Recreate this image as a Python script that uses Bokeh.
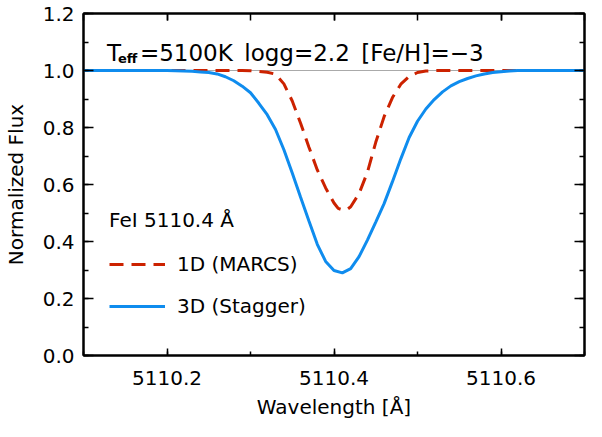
from bokeh.plotting import figure
from bokeh.models import (Range1d, LinearAxis, FixedTicker, Span, Label, Legend,
                          LegendItem, NumeralTickFormatter)
from bokeh.embed import file_html
from bokeh.resources import INLINE

# ---- data ----
wl_3d = [5110.10, 5110.15, 5110.20, 5110.21, 5110.22, 5110.23, 5110.24, 5110.25,
         5110.26, 5110.27, 5110.28, 5110.29, 5110.30, 5110.31, 5110.32, 5110.33,
         5110.34, 5110.35, 5110.36, 5110.37, 5110.38, 5110.39, 5110.40, 5110.41,
         5110.42, 5110.43, 5110.44, 5110.45, 5110.46, 5110.47, 5110.48, 5110.49,
         5110.50, 5110.51, 5110.52, 5110.53, 5110.54, 5110.55, 5110.56, 5110.57,
         5110.58, 5110.59, 5110.60, 5110.61, 5110.62, 5110.66, 5110.70]
flux_3d = [1.000, 1.000, 1.000, 0.999, 0.998, 0.997, 0.995, 0.993,
           0.988, 0.978, 0.964, 0.945, 0.922, 0.885, 0.845, 0.793,
           0.722, 0.640, 0.555, 0.472, 0.390, 0.330, 0.298, 0.290,
           0.305, 0.347, 0.405, 0.468, 0.533, 0.610, 0.690, 0.765,
           0.822, 0.865, 0.898, 0.925, 0.946, 0.961, 0.972, 0.981,
           0.988, 0.993, 0.996, 0.998, 1.000, 1.000, 1.000]

wl_1d = [5110.10, 5110.20, 5110.29, 5110.30, 5110.31, 5110.32, 5110.33, 5110.34,
         5110.35, 5110.36, 5110.37, 5110.38, 5110.39, 5110.40, 5110.405, 5110.41,
         5110.415, 5110.42, 5110.43, 5110.44, 5110.45, 5110.46, 5110.47, 5110.48,
         5110.49, 5110.50, 5110.51, 5110.52, 5110.60, 5110.70]
flux_1d = [1.000, 1.000, 1.000, 0.999, 0.997, 0.994, 0.987, 0.953,
           0.893, 0.815, 0.731, 0.651, 0.588, 0.535, 0.516, 0.511,
           0.511, 0.522, 0.568, 0.643, 0.748, 0.838, 0.905, 0.952,
           0.979, 0.993, 0.998, 1.000, 1.000, 1.000]

x_ticks = [5110.2, 5110.4, 5110.6]
x_minor = [5110.1, 5110.2, 5110.3, 5110.4, 5110.5, 5110.6, 5110.7]
y_ticks = [0.0, 0.2, 0.4, 0.6, 0.8, 1.0, 1.2]
y_minor = [0.0, 0.1, 0.2, 0.3, 0.4, 0.5, 0.6, 0.7, 0.8, 0.9, 1.0, 1.1, 1.2]
continuum = 1.0

title_sub = "eff"
title_main = "=5100K\u2002logg=2.2\u2002[Fe/H]=\u22123"
line_name = "FeI 5110.4 \u00c5"
label_1d = "1D (MARCS)"
label_3d = "3D (Stagger)"

FONT = "DejaVu Sans"
FS = "20px"
RED = "#cc2200"
BLUE = "#0f8cee"
BLACK = "black"

p = figure(width=586, height=421, output_backend="svg", toolbar_location=None,
           x_range=Range1d(5110.1, 5110.7), y_range=Range1d(0.0, 1.2),
           x_axis_location=None, y_axis_location=None,
           min_border_left=0, min_border_right=2, min_border_top=13, min_border_bottom=0)
p.grid.visible = False
p.background_fill_color = "white"
p.outline_line_color = "black"
p.outline_line_width = 2


def make_axis(ticks, minor, show_labels, tin, tmin):
    ax = LinearAxis(ticker=FixedTicker(ticks=ticks, minor_ticks=minor))
    ax.axis_line_width = 2
    ax.major_tick_line_width = 1.5
    ax.minor_tick_line_width = 1.5
    ax.major_tick_in = tin
    ax.major_tick_out = 0
    ax.minor_tick_in = tmin
    ax.minor_tick_out = 0
    ax.major_label_text_font = FONT
    ax.major_label_text_color = BLACK
    ax.axis_label_text_font = FONT
    ax.axis_label_text_color = BLACK
    ax.axis_label_text_font_style = "normal"
    if show_labels:
        ax.major_label_text_font_size = FS
        ax.axis_label_text_font_size = FS
    else:
        ax.major_label_overrides = {t: "" for t in ticks}
        ax.major_label_text_font_size = "1px"
        ax.major_label_standoff = 0
    return ax


xb = make_axis(x_ticks, x_minor, True, 7, 4)
xb.axis_label = "Wavelength [\u00c5]"
xb.major_label_standoff = 15
xb.axis_label_standoff = 7
p.add_layout(xb, "below")

yl = make_axis(y_ticks, y_minor, True, 10, 5)
yl.axis_label = "Normalized Flux"
yl.formatter = NumeralTickFormatter(format="0.0")
yl.major_label_standoff = 9
yl.axis_label_standoff = 12
p.add_layout(yl, "left")

xt = make_axis(x_ticks, x_minor, False, 7, 7)
p.add_layout(xt, "above")
yr = make_axis(y_ticks, y_minor, False, 10, 5)
p.add_layout(yr, "right")

p.add_layout(Span(location=continuum, dimension="width", line_color="#aaaaaa",
                  line_width=1, level="underlay"))

# red (1D) first, blue (3D) drawn on top as in the reference
r1 = p.line(wl_1d, flux_1d, line_color=RED, line_width=3, line_dash="14 8")
r3 = p.line(wl_3d, flux_3d, line_color=BLUE, line_width=3)

# title text: T_eff=...
TY = 1.062
p.add_layout(Label(x=5110.128, y=TY, text="T", text_font=FONT, text_font_size="23px",
                   text_color=BLACK, text_baseline="alphabetic"))
p.add_layout(Label(x=5110.128, y=TY, x_offset=11, y_offset=-6, text=title_sub,
                   text_font=FONT, text_font_size="13px", text_font_style="bold",
                   text_color=BLACK, text_baseline="alphabetic"))
p.add_layout(Label(x=5110.128, y=TY, x_offset=33, text=title_main, text_font=FONT,
                   text_font_size="23px", text_color=BLACK, text_baseline="alphabetic"))

legend = Legend(items=[LegendItem(label=label_1d, renderers=[r1]),
                       LegendItem(label=label_3d, renderers=[r3])],
                location=(26, 37), title=line_name)
legend.title_text_font = FONT
legend.title_text_font_size = FS
legend.title_text_color = BLACK
legend.title_text_font_style = "normal"
legend.title_standoff = 20
legend.label_text_font = FONT
legend.label_text_font_size = FS
legend.label_text_color = BLACK
legend.glyph_width = 56
legend.glyph_height = 20
legend.label_height = 20
legend.spacing = 18
legend.label_standoff = 12
legend.padding = 0
legend.margin = 0
legend.background_fill_alpha = 0
legend.border_line_alpha = 0
p.add_layout(legend, "center")

open("out.html", "w").write(file_html(p, INLINE))
